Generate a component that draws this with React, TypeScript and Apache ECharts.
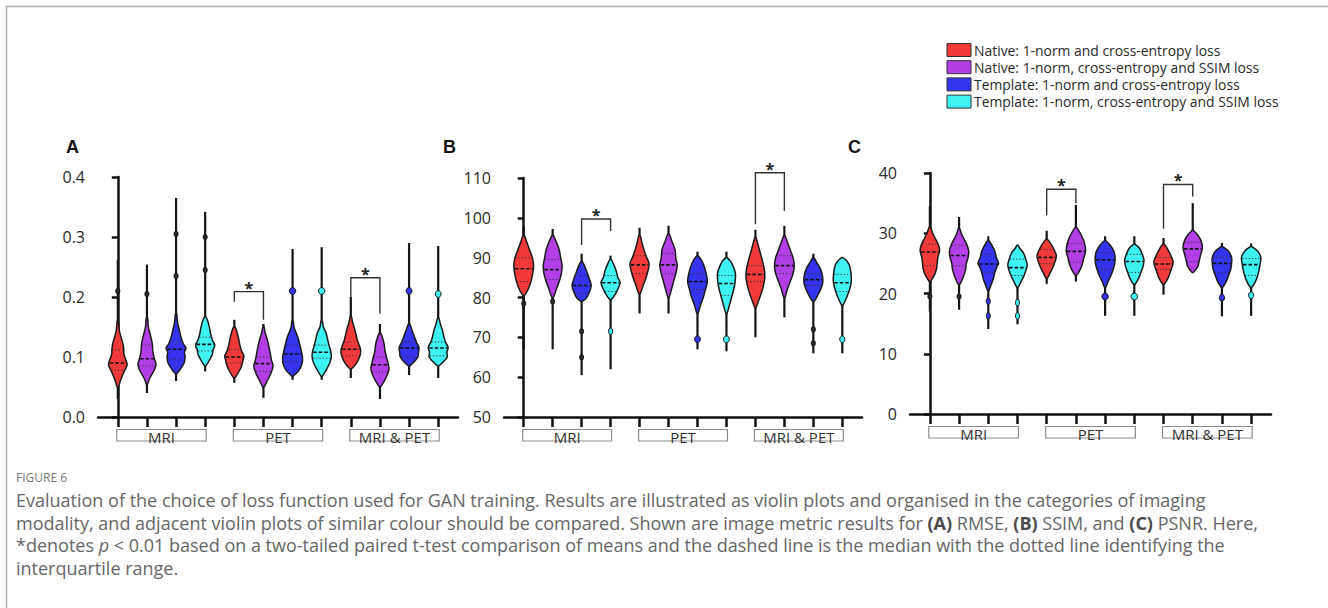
import React, { useEffect, useRef } from 'react';
import * as echarts from 'echarts';

// ---------- categories / legend ----------
const groupNames = ['MRI', 'PET', 'MRI & PET'];
const groupStart = [0, 4, 8];
const groupEnd = [3, 7, 11];
const violinSlots = [0, 1, 2, 3, 4, 5, 6, 7, 8, 9, 10, 11];
const methodNames = [
  'Native: 1-norm and cross-entropy loss',
  'Native: 1-norm, cross-entropy and SSIM loss',
  'Template: 1-norm and cross-entropy loss',
  'Template: 1-norm, cross-entropy and SSIM loss',
];
const methodColors = ['#f23a3a', '#b23fe6', '#3434ee', '#3ff2f2'];

// ---------- Panel A: RMSE ----------
const rmseLow = [0.03, 0.04, 0.06, 0.076, 0.057, 0.032, 0.062, 0.062, 0.065, 0.03, 0.07, 0.065];
const rmseHigh = [0.262, 0.254, 0.365, 0.342, 0.162, 0.155, 0.28, 0.283, 0.2, 0.155, 0.29, 0.285];
const rmseMedian = [0.09, 0.097, 0.113, 0.121, 0.1, 0.089, 0.105, 0.108, 0.113, 0.087, 0.115, 0.115];
const rmseQ1 = [0.078, 0.085, 0.097, 0.11, 0.09, 0.076, 0.092, 0.098, 0.102, 0.075, 0.1, 0.102];
const rmseQ3 = [0.112, 0.12, 0.125, 0.133, 0.112, 0.1, 0.12, 0.12, 0.125, 0.1, 0.125, 0.125];
const rmseProfiles = [
  [[0.05, 0.04], [0.062, 0.2], [0.075, 0.42], [0.087, 0.64], [0.095, 0.55], [0.105, 0.42], [0.115, 0.4], [0.125, 0.32], [0.135, 0.2], [0.145, 0.1], [0.16, 0.04]],
  [[0.055, 0.04], [0.065, 0.2], [0.078, 0.5], [0.088, 0.62], [0.098, 0.5], [0.11, 0.4], [0.12, 0.38], [0.13, 0.3], [0.14, 0.2], [0.15, 0.1], [0.165, 0.04]],
  [[0.072, 0.04], [0.08, 0.3], [0.09, 0.55], [0.1, 0.62], [0.108, 0.58], [0.115, 0.68], [0.122, 0.5], [0.132, 0.35], [0.145, 0.22], [0.158, 0.1], [0.172, 0.04]],
  [[0.085, 0.04], [0.095, 0.3], [0.105, 0.5], [0.112, 0.55], [0.12, 0.66], [0.128, 0.5], [0.138, 0.38], [0.148, 0.3], [0.158, 0.2], [0.167, 0.05]],
  [[0.065, 0.04], [0.075, 0.3], [0.085, 0.5], [0.095, 0.6], [0.102, 0.66], [0.11, 0.5], [0.12, 0.38], [0.13, 0.3], [0.14, 0.2], [0.15, 0.05]],
  [[0.05, 0.04], [0.06, 0.25], [0.072, 0.5], [0.085, 0.66], [0.095, 0.55], [0.108, 0.45], [0.12, 0.35], [0.13, 0.25], [0.14, 0.12], [0.15, 0.04]],
  [[0.068, 0.04], [0.078, 0.45], [0.09, 0.66], [0.1, 0.68], [0.11, 0.6], [0.12, 0.5], [0.13, 0.4], [0.14, 0.25], [0.15, 0.1], [0.16, 0.04]],
  [[0.068, 0.04], [0.078, 0.3], [0.09, 0.55], [0.1, 0.66], [0.11, 0.62], [0.12, 0.5], [0.13, 0.4], [0.14, 0.3], [0.15, 0.12], [0.16, 0.04]],
  [[0.08, 0.04], [0.088, 0.35], [0.1, 0.6], [0.11, 0.68], [0.118, 0.6], [0.128, 0.45], [0.138, 0.35], [0.148, 0.25], [0.158, 0.12], [0.168, 0.04]],
  [[0.05, 0.04], [0.06, 0.3], [0.07, 0.5], [0.08, 0.62], [0.09, 0.55], [0.1, 0.45], [0.11, 0.35], [0.12, 0.3], [0.13, 0.2], [0.14, 0.04]],
  [[0.085, 0.04], [0.092, 0.35], [0.1, 0.6], [0.108, 0.65], [0.116, 0.68], [0.125, 0.5], [0.135, 0.35], [0.145, 0.2], [0.155, 0.04]],
  [[0.085, 0.04], [0.092, 0.35], [0.1, 0.62], [0.108, 0.6], [0.116, 0.68], [0.125, 0.5], [0.135, 0.38], [0.145, 0.28], [0.155, 0.15], [0.165, 0.04]],
];
// [value, width, coloured(1) or dark(0)]
const rmseBulbs = [
  [[0.21, 0.08, 0]], [[0.205, 0.07, 0]], [[0.235, 0.1, 0], [0.305, 0.08, 0]], [[0.3, 0.08, 0], [0.245, 0.07, 0]],
  [], [], [[0.21, 0.22, 1]], [[0.21, 0.22, 1]],
  [], [], [[0.21, 0.2, 1]], [[0.205, 0.2, 1]],
];
// [left, right, top, left leg end, right leg end]
const rmseBrackets = [[4, 5, 0.209, 0.192, 0.162], [8, 9, 0.232, 0.2, 0.172]];

// ---------- Panel B: SSIM ----------
const ssimLow = [67, 67, 60.5, 62, 76, 76, 67, 66.5, 70, 75, 66, 66];
const ssimHigh = [97.7, 97.2, 91, 90.5, 97.5, 98, 91.5, 91.5, 97, 98, 91, 90];
const ssimMedian = [87.2, 87, 83, 83.7, 88.2, 88.2, 84, 83.5, 85.8, 88, 84.5, 83.7];
const ssimQ1 = [84, 84.5, 81, 81.5, 86, 86, 82, 80.5, 84, 86, 83, 81.5];
const ssimQ3 = [90, 89.5, 85.5, 85.5, 90.5, 91, 86, 85.5, 88, 90.5, 86, 85.8];
const ssimProfiles = [
  [[80.5, 0.05], [82, 0.3], [84, 0.5], [86, 0.62], [88, 0.68], [90, 0.6], [92, 0.4], [94, 0.2], [95.5, 0.05]],
  [[80, 0.05], [82, 0.25], [84, 0.45], [86, 0.6], [88, 0.65], [90, 0.55], [92, 0.45], [94, 0.25], [95.5, 0.05]],
  [[79, 0.05], [80, 0.35], [81.5, 0.55], [83, 0.66], [84.5, 0.55], [86, 0.4], [87.5, 0.25], [89, 0.05]],
  [[79.5, 0.05], [81, 0.35], [82.5, 0.55], [83.8, 0.66], [85, 0.5], [86.5, 0.4], [88, 0.25], [89.5, 0.05]],
  [[81, 0.05], [83, 0.25], [85, 0.45], [87, 0.6], [88.5, 0.66], [90, 0.5], [92, 0.3], [94, 0.15], [95.5, 0.05]],
  [[80, 0.04], [82, 0.2], [84, 0.35], [86, 0.5], [88, 0.6], [90, 0.5], [92, 0.45], [94, 0.25], [96, 0.04]],
  [[76, 0.04], [78, 0.2], [80, 0.4], [82, 0.55], [84, 0.68], [86, 0.6], [88, 0.45], [89.5, 0.25], [90.5, 0.04]],
  [[76, 0.04], [78, 0.2], [80, 0.35], [82, 0.5], [84, 0.6], [86, 0.62], [87.5, 0.5], [89, 0.3], [90, 0.04]],
  [[77.5, 0.04], [79, 0.2], [81, 0.4], [83, 0.55], [85, 0.65], [87, 0.62], [89, 0.5], [91, 0.35], [93, 0.2], [95, 0.04]],
  [[80, 0.04], [82, 0.2], [84, 0.4], [86, 0.6], [88, 0.68], [90, 0.6], [92, 0.4], [94, 0.2], [95.5, 0.04]],
  [[79, 0.04], [80.5, 0.3], [82, 0.5], [84, 0.66], [86, 0.6], [87.5, 0.45], [89, 0.2], [90, 0.04]],
  [[78, 0.04], [80, 0.3], [82, 0.5], [84, 0.62], [86, 0.6], [88, 0.5], [89.2, 0.3], [90, 0.04]],
];
const ssimBulbs = [
  [[78.5, 0.08, 0]], [[79, 0.07, 0]], [[71.5, 0.08, 0], [65, 0.06, 0]], [[71.5, 0.1, 1]],
  [], [], [[69.5, 0.2, 1]], [[69.5, 0.2, 1]],
  [], [], [[72, 0.1, 0], [68.5, 0.08, 0]], [[69.5, 0.18, 1]],
];
const ssimBrackets = [[2, 3, 99.7, 93.2, 96.7], [8, 9, 111.3, 98.4, 101.7]];

// ---------- Panel C: PSNR ----------
const psnrLow = [17, 17.3, 14.1, 14.9, 21.6, 22, 16.3, 16.3, 19.8, 23.5, 16.2, 16.3];
const psnrHigh = [34.5, 32.7, 29.5, 27.9, 30.4, 34.7, 29.5, 29.5, 29.2, 35, 28.4, 28.3];
const psnrMedian = [26.9, 26.3, 24.9, 24.3, 26, 27, 25.6, 25.3, 24.9, 27.4, 25, 24.8];
const psnrQ1 = [24.6, 24.6, 23.5, 23, 25, 25.2, 24, 23.5, 24, 25.3, 23.5, 23];
const psnrQ3 = [28.2, 28, 26.5, 25.7, 27.3, 28.3, 26.8, 26.5, 26, 28.5, 26, 25.8];
const psnrProfiles = [
  [[22, 0.04], [23, 0.3], [24, 0.45], [25, 0.5], [26, 0.55], [27, 0.66], [28, 0.6], [29, 0.4], [30, 0.2], [31, 0.04]],
  [[21.5, 0.04], [22.5, 0.25], [24, 0.45], [25, 0.5], [26, 0.62], [27, 0.66], [28, 0.55], [29, 0.35], [30, 0.15], [30.8, 0.04]],
  [[20.5, 0.04], [21.5, 0.2], [22.5, 0.35], [23.5, 0.45], [24.5, 0.6], [25, 0.7], [26, 0.55], [27, 0.45], [28, 0.25], [28.8, 0.04]],
  [[21, 0.04], [22, 0.25], [23, 0.45], [24, 0.6], [24.8, 0.66], [25.8, 0.55], [26.8, 0.4], [27.5, 0.15], [28, 0.04]],
  [[22.5, 0.04], [23.5, 0.25], [24.5, 0.45], [25.5, 0.6], [26.3, 0.66], [27.3, 0.5], [28.2, 0.3], [29, 0.04]],
  [[23, 0.04], [24, 0.3], [25, 0.45], [26, 0.55], [27, 0.66], [28, 0.62], [29, 0.5], [30, 0.3], [31, 0.04]],
  [[21, 0.04], [22, 0.2], [23, 0.4], [24, 0.55], [25, 0.66], [26, 0.68], [27, 0.6], [28, 0.35], [28.8, 0.04]],
  [[21.5, 0.04], [22.5, 0.3], [23.5, 0.45], [24.5, 0.6], [25.5, 0.66], [26.5, 0.55], [27.5, 0.35], [28.2, 0.04]],
  [[21.5, 0.04], [22.5, 0.3], [23.5, 0.45], [24.5, 0.6], [25.3, 0.66], [26.3, 0.5], [27.3, 0.3], [28.2, 0.04]],
  [[23.5, 0.04], [24.5, 0.35], [25.5, 0.45], [26.5, 0.55], [27.5, 0.66], [28.5, 0.6], [29.5, 0.4], [30.5, 0.04]],
  [[21, 0.04], [22, 0.3], [23, 0.45], [24, 0.6], [25, 0.66], [26, 0.66], [27, 0.45], [27.8, 0.04]],
  [[21, 0.04], [22, 0.3], [23, 0.45], [24, 0.55], [25, 0.62], [26, 0.66], [27, 0.45], [27.8, 0.04]],
];
const psnrBulbs = [
  [[19.5, 0.08, 0]], [[19.5, 0.08, 0]], [[18.7, 0.1, 1], [16.3, 0.1, 1]], [[18.5, 0.07, 1], [16.3, 0.08, 1]],
  [], [], [[19.5, 0.22, 1]], [[19.5, 0.22, 1]],
  [], [], [[19.3, 0.18, 1]], [[19.7, 0.18, 1]],
];
const psnrBrackets = [[4, 5, 37.3, 33, 35], [8, 9, 38.1, 30.8, 36.1]];

// ---------- axes ----------
const rmseTicks = { min: 0, max: 0.4, interval: 0.1 };
const ssimTicks = { min: 50, max: 110, interval: 10 };
const psnrTicks = { min: 0, max: 40, interval: 10 };
const panelLetters = ['A', 'B', 'C'];

const panels = [
  { low: rmseLow, high: rmseHigh, med: rmseMedian, q1: rmseQ1, q3: rmseQ3, prof: rmseProfiles, bulbs: rmseBulbs, brackets: rmseBrackets, ticks: rmseTicks, fmt: (v: number) => v.toFixed(1) },
  { low: ssimLow, high: ssimHigh, med: ssimMedian, q1: ssimQ1, q3: ssimQ3, prof: ssimProfiles, bulbs: ssimBulbs, brackets: ssimBrackets, ticks: ssimTicks, fmt: (v: number) => String(v) },
  { low: psnrLow, high: psnrHigh, med: psnrMedian, q1: psnrQ1, q3: psnrQ3, prof: psnrProfiles, bulbs: psnrBulbs, brackets: psnrBrackets, ticks: psnrTicks, fmt: (v: number) => String(v) },
];

const gridBoxes = [
  { left: 98, top: 177, width: 360, height: 240 },
  { left: 504, top: 178, width: 358, height: 239 },
  { left: 910, top: 173, width: 361, height: 241 },
];
const letterPos = [[66, 147], [443, 147], [848, 147]];

const FONT = '"Open Sans", "Noto Sans", sans-serif';
const CAP_FONT = '"Open Sans", "Noto Sans", sans-serif';
const CAP_SIZE = 18;

function widthAt(prof: number[][], v: number) {
  if (v <= prof[0][0]) return prof[0][1];
  for (let k = 1; k < prof.length; k++) {
    if (v <= prof[k][0]) {
      const [v0, w0] = prof[k - 1];
      const [v1, w1] = prof[k];
      return w0 + ((w1 - w0) * (v - v0)) / (v1 - v0);
    }
  }
  return prof[prof.length - 1][1];
}

function buildOption() {
  const series: any[] = [];
  panels.forEach((p, g) => {
    // violins
    series.push({
      type: 'custom',
      xAxisIndex: g,
      yAxisIndex: g,
      clip: false,
      silent: true,
      data: violinSlots.map((i) => [i, p.med[i]]),
      encode: { x: 0, y: 1 },
      renderItem: (params: any, api: any) => {
        const i = params.dataIndex;
        const band = api.size([1, 0])[0];
        const cx = api.coord([i, p.ticks.min])[0];
        const Y = (v: number) => api.coord([i, v])[1];
        const half = (w: number) => (w * band) / 2;
        const color = methodColors[i % 4];
        const prof = p.prof[i];
        const right = prof.map(([v, w]) => [cx + half(w), Y(v)]);
        const left = prof.slice().reverse().map(([v, w]) => [cx - half(w), Y(v)]);
        const children: any[] = [];
        children.push({
          type: 'line',
          shape: { x1: cx, y1: Y(p.low[i]), x2: cx, y2: Y(p.high[i]) },
          style: { stroke: '#151515', lineWidth: 2.2 },
        });
        p.bulbs[i].forEach(([v, w, c]) => {
          children.push({
            type: 'ellipse',
            shape: { cx, cy: Y(v), rx: Math.max(2, half(w)), ry: c ? 3.4 : 3 },
            style: { fill: c ? color : '#262626', stroke: '#151515', lineWidth: 1 },
          });
        });
        children.push({
          type: 'polygon',
          shape: { points: right.concat(left), smooth: 0.35 },
          style: { fill: color, stroke: '#1a1a1a', lineWidth: 1.5 },
        });
        const addLine = (v: number, dash: number[], lw: number, col: string) => {
          const hw = half(widthAt(prof, v)) * 0.92;
          children.push({
            type: 'line',
            shape: { x1: cx - hw, y1: Y(v), x2: cx + hw, y2: Y(v) },
            style: { stroke: col, lineWidth: lw, lineDash: dash },
          });
        };
        addLine(p.q1[i], [1.2, 2], 1, '#333');
        addLine(p.q3[i], [1.2, 2], 1, '#333');
        addLine(p.med[i], [3.5, 2], 1.6, '#111');
        return { type: 'group', children };
      },
      z: 3,
    });
    // group boxes
    series.push({
      type: 'custom',
      xAxisIndex: g,
      yAxisIndex: g,
      clip: false,
      silent: true,
      data: groupNames.map((_, k) => [groupStart[k], groupEnd[k]]),
      encode: { x: [0, 1] },
      renderItem: (params: any, api: any) => {
        const k = params.dataIndex;
        const a = api.coord([groupStart[k], p.ticks.min]);
        const b = api.coord([groupEnd[k], p.ticks.min]);
        const top = a[1] + 12.5;
        return {
          type: 'group',
          children: [
            {
              type: 'rect',
              shape: { x: a[0] - 1, y: top, width: b[0] - a[0] + 2, height: 11.5 },
              style: { fill: '#fff', stroke: '#8c8c8c', lineWidth: 1.2 },
            },
            {
              type: 'text',
              style: {
                text: groupNames[k], x: (a[0] + b[0]) / 2, y: top + 7.5,
                align: 'center', verticalAlign: 'middle',
                fontSize: 15, fontFamily: FONT, fill: '#333',
              },
            },
          ],
        };
      },
      z: 2,
    });
    // significance brackets
    series.push({
      type: 'custom',
      xAxisIndex: g,
      yAxisIndex: g,
      clip: false,
      silent: true,
      data: p.brackets,
      encode: { x: [0, 1], y: [2, 3, 4] },
      renderItem: (params: any, api: any) => {
        const [l, r, t, le, re] = p.brackets[params.dataIndex];
        const L = api.coord([l, t]);
        const R = api.coord([r, t]);
        const yl = api.coord([l, le])[1];
        const yr = api.coord([r, re])[1];
        return {
          type: 'group',
          children: [
            {
              type: 'polyline',
              shape: { points: [[L[0], yl], [L[0], L[1]], [R[0], R[1]], [R[0], yr]] },
              style: { stroke: '#333', lineWidth: 1.4, fill: 'none' },
            },
            {
              type: 'text',
              style: {
                text: '*', x: (L[0] + R[0]) / 2, y: L[1] - 4,
                align: 'center', verticalAlign: 'middle',
                fontSize: 16, fontWeight: 'bold', fontFamily: FONT, fill: '#222',
              },
            },
          ],
        };
      },
      z: 4,
    });
  });

  const graphic: any[] = [
    { type: 'line', shape: { x1: 6, y1: 6.5, x2: 1328, y2: 6.5 }, style: { stroke: '#aaa', lineWidth: 1.5 } },
    { type: 'line', shape: { x1: 6.5, y1: 6, x2: 6.5, y2: 608 }, style: { stroke: '#aaa', lineWidth: 1.5 } },
  ];
  panelLetters.forEach((t, k) => {
    graphic.push({
      type: 'text',
      style: {
        text: t, x: letterPos[k][0], y: letterPos[k][1], verticalAlign: 'middle',
        fontSize: 18, fontWeight: 'bold', fontFamily: '"Liberation Sans", Arial, sans-serif', fill: '#111',
      },
    });
  });
  methodNames.forEach((name, k) => {
    const y = 43.5 + k * 17.2;
    graphic.push({
      type: 'rect',
      shape: { x: 947, y, width: 24, height: 13 },
      style: { fill: methodColors[k], stroke: '#333', lineWidth: 1 },
    });
    graphic.push({
      type: 'text',
      style: {
        text: name, x: 974, y: y + 6.5, verticalAlign: 'middle',
        fontSize: 13.9, fontFamily: FONT, fill: '#2a2a2a',
      },
    });
  });
  graphic.push({
    type: 'text',
    style: { text: 'FIGURE 6', x: 16, y: 477, verticalAlign: 'middle', fontSize: 12, fontFamily: FONT, fill: '#777' },
  });
  const capLines = [
    'Evaluation of the choice of loss function used for GAN training. Results are illustrated as violin plots and organised in the categories of imaging',
    'modality, and adjacent violin plots of similar colour should be compared. Shown are image metric results for {b|(A)} RMSE, {b|(B)} SSIM, and {b|(C)} PSNR. Here,',
    '*denotes {i|p} < 0.01 based on a two-tailed paired t-test comparison of means and the dashed line is the median with the dotted line identifying the',
    'interquartile range.',
  ];
  capLines.forEach((t, k) => {
    graphic.push({
      type: 'text',
      style: {
        text: t, x: 16, y: 500 + k * 22.7, verticalAlign: 'middle',
        fontSize: CAP_SIZE, fontFamily: CAP_FONT, fill: '#666',
        rich: {
          b: { fontWeight: 'bold', fontSize: CAP_SIZE, fontFamily: CAP_FONT, fill: '#4a4a4a' },
          i: { fontStyle: 'italic', fontSize: CAP_SIZE, fontFamily: CAP_FONT, fill: '#666' },
        },
      },
    });
  });

  return {
    animation: false,
    backgroundColor: '#fff',
    grid: gridBoxes.map((b) => ({ ...b, containLabel: false })),
    xAxis: panels.map((_, g) => ({
      type: 'value',
      gridIndex: g,
      min: -0.68,
      max: 11.68,
      axisLine: { show: true, lineStyle: { color: '#111', width: 2.5 } },
      axisTick: { show: true, customValues: violinSlots, length: 10, lineStyle: { color: '#111', width: 2.5 } },
      axisLabel: { show: false },
      splitLine: { show: false },
    })),
    yAxis: panels.map((p, g) => ({
      type: 'value',
      gridIndex: g,
      min: p.ticks.min,
      max: p.ticks.max,
      interval: p.ticks.interval,
      axisLine: { show: true, lineStyle: { color: '#111', width: 2.5 } },
      axisTick: { show: true, length: 6, lineStyle: { color: '#111', width: 2.5 } },
      axisLabel: { fontSize: 16, color: '#2a2a2a', fontFamily: FONT, margin: 13, formatter: p.fmt },
      splitLine: { show: false },
    })),
    series,
    graphic,
  };
}

export default function App() {
  const ref = useRef<HTMLDivElement>(null);
  useEffect(() => {
    if (!ref.current) return;
    const chart = echarts.init(ref.current, null, { renderer: 'svg' });
    chart.setOption(buildOption() as any);
    return () => chart.dispose();
  }, []);
  return <div ref={ref} style={{ position: 'fixed', left: 0, top: 0, width: 1328, height: 608, background: '#fff' }} />;
}
